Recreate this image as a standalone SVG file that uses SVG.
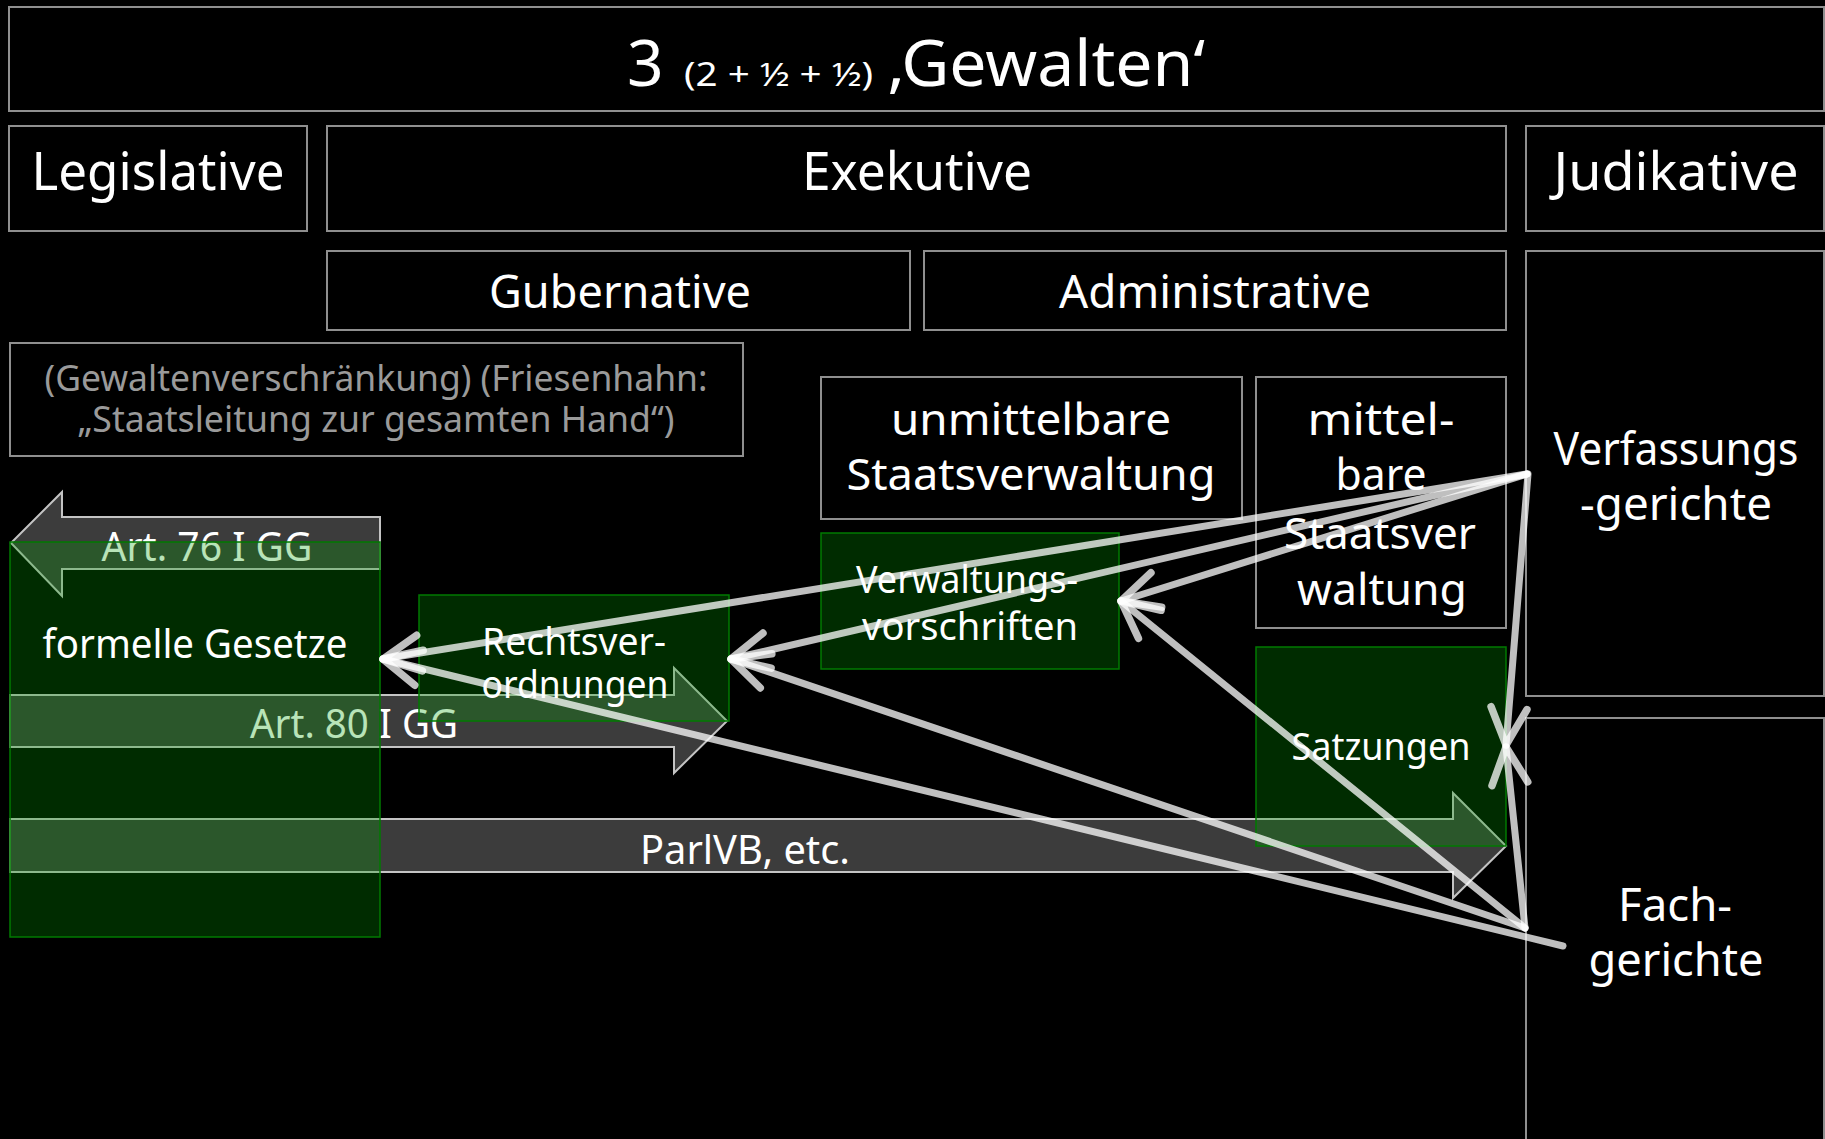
<svg xmlns="http://www.w3.org/2000/svg" width="1825" height="1139" viewBox="0 0 1825 1139">
<defs>
<style>
.box{fill:#000;stroke:#8f8f8f;stroke-width:2}
.green{fill:#009d00;fill-opacity:0.28;stroke:#007a00;stroke-width:1.5}
.barrow{fill:#3c3c3c;stroke:#c4c4c4;stroke-width:2}
text{font-family:"Noto Sans","Open Sans","DejaVu Sans",sans-serif;fill:#fff;text-anchor:middle}
.t53{font-size:53px}
.t46{font-size:46px}
.t45{font-size:45px}
.t44{font-size:44px}
.t40{font-size:40px}
.t38{font-size:38px}
.t36{font-size:36px}
.gray{fill:#9a9a9a}
.conn{fill:none;stroke:#ffffff;stroke-opacity:0.75;stroke-width:7;stroke-linecap:round}
</style>
<marker id="ah" markerUnits="userSpaceOnUse" markerWidth="60" markerHeight="60" viewBox="-45 -30 60 60" refX="0" refY="0" orient="auto" overflow="visible">
<path d="M-37,-18 L0,0 L-37,18" fill="none" stroke="#ffffff" stroke-opacity="0.75" stroke-width="7.5" stroke-linecap="round" stroke-linejoin="round"/>
</marker>
</defs>
<rect width="1825" height="1139" fill="#000"/>

<g id="title">
<rect class="box" x="9" y="7" width="1815" height="104"/>
<text y="86" style="text-anchor:start;font-size:64px"><tspan x="627">3</tspan><tspan x="684" style="font-size:32px" textLength="189" lengthAdjust="spacingAndGlyphs">(2 + ½ + ½)</tspan><tspan x="888" textLength="317" lengthAdjust="spacingAndGlyphs">‚Gewalten‘</tspan></text>
</g>

<g id="legislative">
<rect class="box" x="9" y="126" width="298" height="105"/>
<text class="t53" x="158" y="190" textLength="253" lengthAdjust="spacingAndGlyphs">Legislative</text>
</g>
<g id="exekutive">
<rect class="box" x="327" y="126" width="1179" height="105"/>
<text class="t53" x="917" y="190" textLength="230" lengthAdjust="spacingAndGlyphs">Exekutive</text>
</g>
<g id="judikative">
<rect class="box" x="1526" y="126" width="298" height="105"/>
<text class="t53" x="1676" y="190" textLength="245" lengthAdjust="spacingAndGlyphs">Judikative</text>
</g>

<g id="gubernative">
<rect class="box" x="327" y="251" width="583" height="79"/>
<text class="t45" x="620" y="308" textLength="262" lengthAdjust="spacingAndGlyphs">Gubernative</text>
</g>
<g id="administrative">
<rect class="box" x="924" y="251" width="582" height="79"/>
<text class="t45" x="1215" y="308" textLength="312" lengthAdjust="spacingAndGlyphs">Administrative</text>
</g>

<g id="verfassungsgerichte">
<rect class="box" x="1526" y="251" width="298" height="445"/>
<text class="t46" x="1676" y="465" textLength="245" lengthAdjust="spacingAndGlyphs">Verfassungs</text>
<text class="t46" x="1676" y="520" textLength="192" lengthAdjust="spacingAndGlyphs">-gerichte</text>
</g>
<g id="fachgerichte">
<rect class="box" x="1526" y="718" width="298" height="440"/>
<text class="t46" x="1675" y="921" textLength="114" lengthAdjust="spacingAndGlyphs">Fach-</text>
<text class="t46" x="1676" y="976" textLength="175" lengthAdjust="spacingAndGlyphs">gerichte</text>
</g>

<g id="gewaltenverschraenkung">
<rect class="box" x="10" y="343" width="733" height="113"/>
<text class="t36 gray" x="376" y="391" textLength="663" lengthAdjust="spacingAndGlyphs">(Gewaltenverschränkung) (Friesenhahn:</text>
<text class="t36 gray" x="376" y="432" textLength="597" lengthAdjust="spacingAndGlyphs">„Staatsleitung zur gesamten Hand“)</text>
</g>

<g id="unmittelbare">
<rect class="box" x="821" y="377" width="421" height="142"/>
<text class="t44" x="1031" y="435" textLength="280" lengthAdjust="spacingAndGlyphs">unmittelbare</text>
<text class="t44" x="1031" y="490" textLength="369" lengthAdjust="spacingAndGlyphs">Staatsverwaltung</text>
</g>
<g id="mittelbare">
<rect class="box" x="1256" y="377" width="250" height="251"/>
<text class="t44" x="1381" y="435" textLength="147" lengthAdjust="spacingAndGlyphs">mittel-</text>
<text class="t44" x="1381" y="490" textLength="91" lengthAdjust="spacingAndGlyphs">bare</text>
<text class="t44" x="1380" y="549" textLength="192" lengthAdjust="spacingAndGlyphs">Staatsver</text>
<text class="t44" x="1382" y="605" textLength="170" lengthAdjust="spacingAndGlyphs">waltung</text>
</g>

<g id="art76">
<polygon class="barrow" points="11,543 62,492 62,517 380,517 380,569 62,569 62,596"/>
<text class="t40" x="207" y="561" textLength="211" lengthAdjust="spacingAndGlyphs">Art. 76 I GG</text>
</g>
<g id="art80">
<polygon class="barrow" points="10,695 674,695 674,668 727,721 674,773 674,747 10,747"/>
<text class="t40" x="354" y="738" textLength="208" lengthAdjust="spacingAndGlyphs">Art. 80 I GG</text>
</g>
<g id="parlvb">
<polygon class="barrow" points="10,819 1453,819 1453,793 1506,846 1453,898 1453,872 10,872"/>
<text class="t40" x="745" y="864" textLength="210" lengthAdjust="spacingAndGlyphs">ParlVB, etc.</text>
</g>

<g id="formelle-gesetze">
<rect class="green" x="10" y="542" width="370" height="395"/>
<text class="t40" x="195" y="658" textLength="305" lengthAdjust="spacingAndGlyphs">formelle Gesetze</text>
</g>
<g id="rechtsverordnungen">
<rect class="green" x="419" y="595" width="310" height="126"/>
<text class="t38" x="574" y="655" textLength="184" lengthAdjust="spacingAndGlyphs">Rechtsver-</text>
<text class="t38" x="575" y="698" textLength="187" lengthAdjust="spacingAndGlyphs">ordnungen</text>
</g>
<g id="verwaltungsvorschriften">
<rect class="green" x="821" y="533" width="298" height="136"/>
<text class="t38" x="967" y="593" textLength="222" lengthAdjust="spacingAndGlyphs">Verwaltungs-</text>
<text class="t38" x="970" y="640" textLength="216" lengthAdjust="spacingAndGlyphs">vorschriften</text>
</g>
<g id="satzungen">
<rect class="green" x="1256" y="647" width="250" height="199"/>
<text class="t38" x="1381" y="760" textLength="179" lengthAdjust="spacingAndGlyphs">Satzungen</text>
</g>

<g id="connectors">
<path class="conn" d="M1527,474 L383,659" marker-end="url(#ah)"/>
<path class="conn" d="M1527,474 L731,659" marker-end="url(#ah)"/>
<path class="conn" d="M1527,474 L1121,601" marker-end="url(#ah)"/>
<path class="conn" d="M1528,474 L1506,745" marker-end="url(#ah)"/>
<path class="conn" d="M1563,946 L383,659" marker-end="url(#ah)"/>
<path class="conn" d="M1525,928 L731,659" marker-end="url(#ah)"/>
<path class="conn" d="M1525,928 L1121,601" marker-end="url(#ah)"/>
<path class="conn" d="M1525,928 L1506,747" marker-end="url(#ah)"/>
</g>
</svg>
